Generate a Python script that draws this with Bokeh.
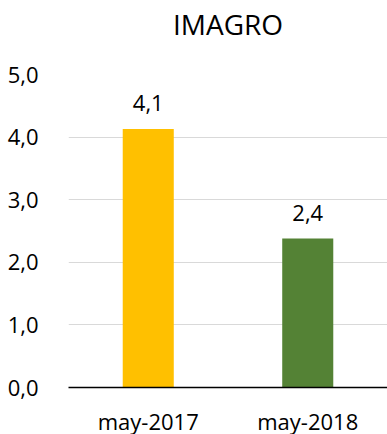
from bokeh.plotting import figure
from bokeh.models import ColumnDataSource, LabelSet, FactorRange, Range1d, SingleIntervalTicker, CustomJSTickFormatter, Title
from bokeh.core.properties import value
from bokeh.embed import file_html
from bokeh.resources import INLINE

categories = ["may-2017", "may-2018"]
values = [4.13, 2.38]
labels = ["4,1", "2,4"]
colors = ["#FFC000", "#548235"]
title_text = "IMAGRO"
y_max = 5

FONT = "Open Sans"

src = ColumnDataSource(dict(cat=categories, val=values, lab=labels, col=colors))

p = figure(x_range=FactorRange(*categories, range_padding=0), y_range=Range1d(0, y_max),
           frame_width=319, frame_height=313, output_backend="svg", toolbar_location=None,
           min_border_left=68, min_border_right=0, min_border_top=74, min_border_bottom=47,
           title=title_text)
p.outline_line_color = None
p.background_fill_color = "white"
p.border_fill_color = "white"

p.vbar(x="cat", top="val", width=0.32, color="col", source=src, line_color=None)

p.add_layout(LabelSet(x="cat", y="val", text="lab", source=src, y_offset=18,
                      text_align="center", text_baseline="alphabetic",
                      text_font=value(FONT), text_font_size="22px", text_color="#000000"))

# blank spacer panel between the title and the plot area
p.add_layout(Title(text=" ", text_font_size="10px", standoff=13), "above")

p.title.align = "center"
p.title.vertical_align = "top"
p.title.standoff = 7
p.title.text_font = FONT
p.title.text_font_size = "28px"
p.title.text_font_style = "normal"
p.title.text_color = "#000000"

p.yaxis.ticker = SingleIntervalTicker(interval=1)
p.yaxis.formatter = CustomJSTickFormatter(code="return tick.toFixed(1).replace('.', ',');")
p.yaxis.axis_line_color = None
p.yaxis.major_tick_line_color = None
p.yaxis.minor_tick_line_color = None
p.yaxis.major_label_text_font = FONT
p.yaxis.major_label_text_font_size = "22px"
p.yaxis.major_label_text_color = "#000000"
p.yaxis.major_label_standoff = 24

p.xaxis.axis_line_color = "#000000"
p.xaxis.axis_line_width = 1.5
p.xaxis.major_tick_line_color = None
p.xaxis.minor_tick_line_color = None
p.xaxis.major_label_text_font = FONT
p.xaxis.major_label_text_font_size = "22px"
p.xaxis.major_label_text_color = "#000000"
p.xaxis.major_label_standoff = 12

p.xgrid.grid_line_color = None
p.ygrid.grid_line_color = "#D9D9D9"
p.ygrid.grid_line_width = 1

open("out.html", "w").write(file_html(p, INLINE))
